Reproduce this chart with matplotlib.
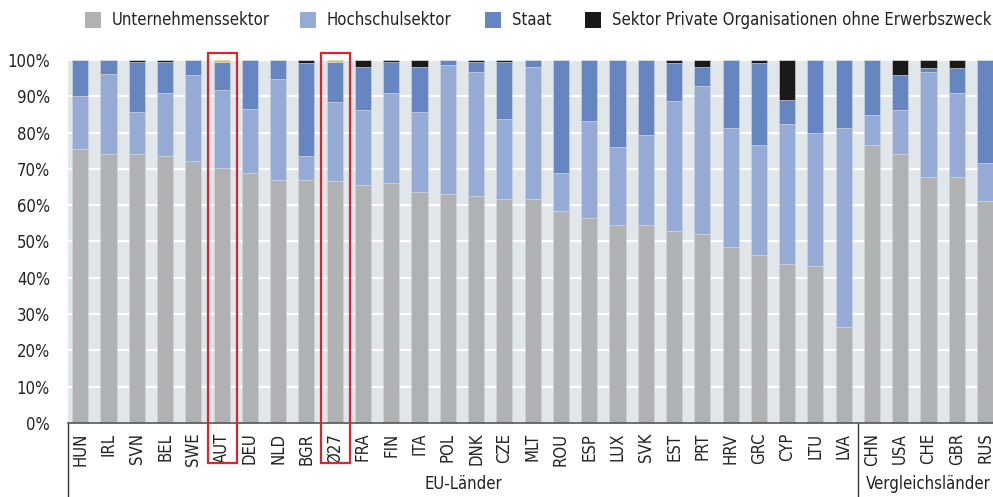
import matplotlib.pyplot as plt
import matplotlib.transforms as mtransforms
from matplotlib.patches import Rectangle
import numpy as np

plt.rcParams['font.family'] = ['DejaVu Sans']
plt.rcParams['font.stretch'] = 'condensed'

countries = ['HUN', 'IRL', 'SVN', 'BEL', 'SWE', 'AUT', 'DEU', 'NLD', 'BGR', 'Ø27',
             'FRA', 'FIN', 'ITA', 'POL', 'DNK', 'CZE', 'MLT', 'ROU', 'ESP', 'LUX',
             'SVK', 'EST', 'PRT', 'HRV', 'GRC', 'CYP', 'LTU', 'LVA',
             'CHN', 'USA', 'CHE', 'GBR', 'RUS']

# shares in percent
unternehmen = [75.5, 74.1, 74.1, 73.6, 72.2, 70.3, 68.8, 66.9, 66.9, 66.7,
               65.5, 66.0, 63.6, 63.0, 62.5, 61.6, 61.6, 58.3, 56.4, 54.5,
               54.5, 52.9, 52.0, 48.5, 46.3, 43.8, 43.3, 26.4,
               76.5, 74.1, 67.9, 67.9, 61.2]
hochschule = [14.6, 22.1, 11.6, 17.3, 23.7, 21.4, 17.8, 27.9, 6.7, 21.7,
              20.7, 25.0, 22.1, 35.6, 34.2, 22.1, 36.6, 10.6, 26.8, 21.5,
              24.8, 35.7, 40.8, 32.8, 30.3, 38.6, 36.6, 54.9,
              8.3, 12.1, 28.8, 23.0, 10.4]
staat = [9.9, 3.8, 13.8, 8.6, 4.1, 7.7, 13.4, 5.2, 25.5, 11.0,
         12.0, 8.5, 12.5, 1.4, 2.8, 15.8, 1.8, 31.1, 16.8, 24.0,
         20.7, 10.6, 5.4, 18.7, 22.6, 6.6, 20.1, 18.7,
         15.2, 9.6, 1.0, 6.8, 28.4]
privat = [0, 0, 0.5, 0.5, 0, 0, 0, 0, 0.9, 0,
          1.8, 0.5, 1.8, 0, 0.5, 0.5, 0, 0, 0, 0,
          0, 0.8, 1.8, 0, 0.8, 11.0, 0, 0,
          0, 4.2, 2.3, 2.3, 0]
nicht_zuordenbar = [0, 0, 0, 0, 0, 0.6, 0, 0, 0, 0.6,
                    0, 0, 0, 0, 0, 0, 0, 0, 0, 0,
                    0, 0, 0, 0, 0, 0, 0, 0,
                    0, 0, 0, 0, 0]

highlight = ['AUT', 'Ø27']
n_eu = 28

series = [
    ('Unternehmenssektor', unternehmen, '#B0B1B3'),
    ('Hochschulsektor', hochschule, '#96AAD6'),
    ('Staat', staat, '#6686C2'),
    ('Sektor Private Organisationen ohne Erwerbszweck', privat, '#1A1A1A'),
    (None, nicht_zuordenbar, '#F5C000'),
]
FS = 12

fig = plt.figure(figsize=(9.93, 4.97), dpi=100)
ax = fig.add_axes([0.0685, 0.1489, 0.9315, 0.7304])
ax.set_facecolor('#E1E6EA')

x = np.arange(len(countries))
bottom = np.zeros(len(countries))
for label, vals, color in series:
    vals = np.array(vals) / 100
    ax.bar(x, vals, 0.57, bottom=bottom, color=color, edgecolor='#D3D8DD',
           linewidth=0.4, zorder=2)
    bottom += vals

ax.set_ylim(0, 1.0)
ax.set_xlim(-0.43, len(countries) - 0.72)
ax.set_yticks(np.arange(0, 1.01, 0.1))
ax.set_yticklabels([f'{int(v)}%' for v in np.arange(0, 101, 10)], fontsize=FS, color='#222222')
ax.yaxis.grid(True, color='white', linewidth=1.6, zorder=1)
ax.set_axisbelow(True)
ax.set_xticks(x)
ax.set_xticklabels(countries, rotation=90, fontsize=FS, color='#222222', va='top')
ax.tick_params(axis='both', length=0)
ax.tick_params(axis='x', pad=7)
ax.tick_params(axis='y', pad=13)

for side in ['top', 'right', 'left']:
    ax.spines[side].set_visible(False)
ax.spines['bottom'].set_color('#555555')
ax.spines['bottom'].set_linewidth(1.2)

# group separators and labels
trans = mtransforms.blended_transform_factory(ax.transData, ax.transAxes)
for xs in [-0.43, n_eu - 0.5]:
    ax.plot([xs, xs], [0, -0.21], transform=trans, color='#333333', lw=1.0, clip_on=False)
ax.text((-0.43 + n_eu - 0.5) / 2, -0.168, 'EU-Länder', transform=trans,
        ha='center', va='center', fontsize=FS, color='#222222')
ax.text(30.0, -0.168, 'Vergleichsländer', transform=trans,
        ha='center', va='center', fontsize=FS, color='#222222')

# red boxes around Austria and EU average
for c in highlight:
    i = countries.index(c)
    ax.add_patch(Rectangle((i - 0.48, -0.11), 1.02, 1.13, transform=trans,
                           fill=False, edgecolor='#D7262E', linewidth=1.6, clip_on=False, zorder=5))

# legend, placed by hand to follow the reference layout
leg_x = [85, 300, 485, 585]
for (label, vals, color), lx in zip(series[:4], leg_x):
    fig.patches.append(Rectangle((lx / 993, 1 - 28 / 497), 16 / 993, 16 / 497,
                                 transform=fig.transFigure, facecolor=color, edgecolor='none'))
    fig.text((lx + 27) / 993, 1 - 20 / 497, label, ha='left', va='center',
             fontsize=FS, color='#222222')

fig.savefig('out.png', dpi=100)
